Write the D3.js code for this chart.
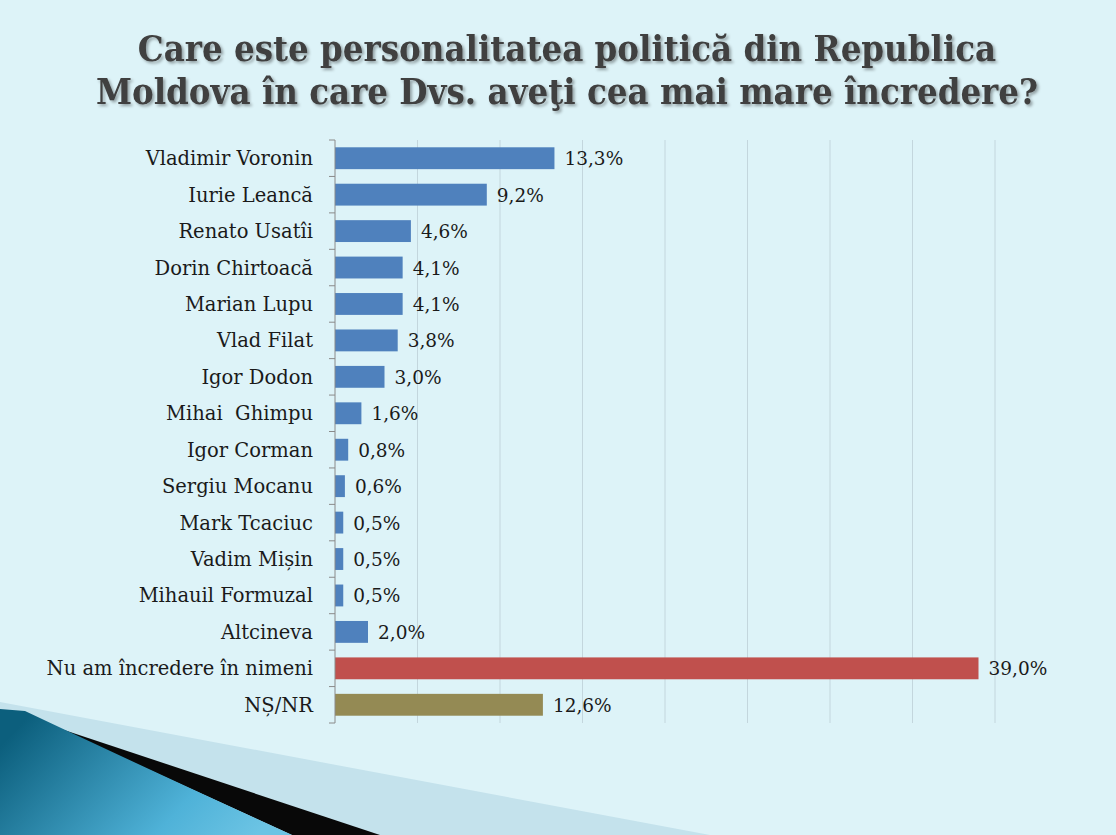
<!DOCTYPE html>
<html>
<head>
<meta charset="utf-8">
<script src="https://cdn.jsdelivr.net/npm/d3@7"></script>
<style>
  body { margin: 0; background: #ddf3f8; overflow: hidden; }
  svg { display: block; }
  text { white-space: pre; }
</style>
</head>
<body>
<div id="chart"></div>
<script>
// survey answers, top to bottom
const names = [
  'Vladimir Voronin', 'Iurie Leancă', 'Renato Usatîi', 'Dorin Chirtoacă',
  'Marian Lupu', 'Vlad Filat', 'Igor Dodon', 'Mihai  Ghimpu', 'Igor Corman',
  'Sergiu Mocanu', 'Mark Tcaciuc', 'Vadim Mișin', 'Mihauil Formuzal',
  'Altcineva', 'Nu am încredere în nimeni', 'NȘ/NR'
];
const values = [13.3, 9.2, 4.6, 4.1, 4.1, 3.8, 3.0, 1.6, 0.8, 0.6, 0.5, 0.5, 0.5, 2.0, 39.0, 12.6];
const gridTicks = [0, 5, 10, 15, 20, 25, 30, 35, 40];
const titleLines = [
  'Care este personalitatea politică din Republica',
  'Moldova în care Dvs. aveţi cea mai mare încredere?'
];

const width = 1116;
const height = 835;

const svg = d3.select('#chart')
  .append('svg')
  .attr('width', width)
  .attr('height', height);

const defs = svg.append('defs');
const grad = defs.append('linearGradient')
  .attr('id', 'swoosh')
  .attr('x1', '0%').attr('y1', '30%')
  .attr('x2', '100%').attr('y2', '70%');
grad.append('stop').attr('offset', '0%').attr('stop-color', '#0c5f7d');
grad.append('stop').attr('offset', '70%').attr('stop-color', '#4fb2d8');
grad.append('stop').attr('offset', '100%').attr('stop-color', '#6cc4e4');

const shadow = defs.append('filter').attr('id', 'tshadow')
  .attr('x', '-5%').attr('y', '-20%').attr('width', '110%').attr('height', '150%');
shadow.append('feDropShadow')
  .attr('dx', 2).attr('dy', 2).attr('stdDeviation', 1.5)
  .attr('flood-color', '#000').attr('flood-opacity', 0.35);

// bottom-left decoration
svg.append('polygon')
  .attr('points', '0,702 710,835 0,835')
  .attr('fill', '#c4e2ec');
svg.append('polygon')
  .attr('points', '55,727 380,835 292,835')
  .attr('fill', '#080808');
svg.append('path')
  .attr('d', 'M0,709 L25,711 Q150,770 292,835 L0,835 Z')
  .attr('fill', 'url(#swoosh)');

// title
svg.append('g')
  .attr('filter', 'url(#tshadow)')
  .selectAll('text')
  .data(titleLines)
  .join('text')
  .attr('x', 567)
  .attr('y', (d, i) => 61 + i * 43)
  .attr('text-anchor', 'middle')
  .attr('font-family', "'DejaVu Serif Condensed', 'DejaVu Serif'")
  .attr('font-stretch', 'condensed')
  .attr('font-weight', 'bold')
  .attr('font-size', 36.2)
  .attr('fill', '#3f3f3f')
  .text((d) => d);

const margin = { top: 140, right: 121, bottom: 112, left: 335 };

const xScale = d3.scaleLinear()
  .domain([0, 40])
  .range([margin.left, width - margin.right]);

const yScale = d3.scaleBand()
  .domain(names)
  .range([margin.top, height - margin.bottom])
  .paddingInner(0.4)
  .paddingOuter(0.2);

// vertical gridlines
svg.append('g')
  .attr('class', 'gridlines')
  .selectAll('line')
  .data(gridTicks.slice(1))
  .join('line')
  .attr('x1', (d) => xScale(d))
  .attr('x2', (d) => xScale(d))
  .attr('y1', margin.top)
  .attr('y2', height - margin.bottom)
  .attr('stroke', '#c3d6dd')
  .attr('stroke-width', 1);

const colorFor = (name) =>
  name === 'Nu am încredere în nimeni' ? '#c0504d'
    : name === 'NȘ/NR' ? '#948a54' : '#4f81bd';

svg.append('g')
  .selectAll('rect')
  .data(names)
  .join('rect')
  .attr('x', xScale(0))
  .attr('y', (d) => yScale(d))
  .attr('width', (d, i) => xScale(values[i]) - xScale(0))
  .attr('height', yScale.bandwidth())
  .attr('fill', colorFor);

// value labels
svg.append('g')
  .selectAll('text')
  .data(names)
  .join('text')
  .attr('x', (d, i) => xScale(values[i]) + 10)
  .attr('y', (d) => yScale(d) + yScale.bandwidth() / 2 + 7)
  .attr('font-family', 'DejaVu Serif')
  .attr('font-size', 18.5)
  .attr('fill', '#1a1a1a')
  .text((d, i) => values[i].toFixed(1).replace('.', ',') + '%');

// category axis with ticks between bands
const step = yScale.step();
const boundaries = d3.range(names.length + 1).map((i) => margin.top + i * step);
const axis = svg.append('g').attr('class', 'y-axis');
axis.append('line')
  .attr('x1', margin.left).attr('x2', margin.left)
  .attr('y1', margin.top).attr('y2', height - margin.bottom)
  .attr('stroke', '#8a8a8a');
axis.selectAll('.tick')
  .data(boundaries)
  .join('line')
  .attr('class', 'tick')
  .attr('x1', margin.left - 6).attr('x2', margin.left)
  .attr('y1', (d) => d).attr('y2', (d) => d)
  .attr('stroke', '#8a8a8a');
axis.selectAll('text')
  .data(names)
  .join('text')
  .attr('x', 313)
  .attr('y', (d) => yScale(d) + yScale.bandwidth() / 2 + 7)
  .attr('text-anchor', 'end')
  .attr('font-family', 'DejaVu Serif')
  .attr('font-size', 19.5)
  .attr('fill', '#1a1a1a')
  .text((d) => d);
</script>
</body>
</html>
